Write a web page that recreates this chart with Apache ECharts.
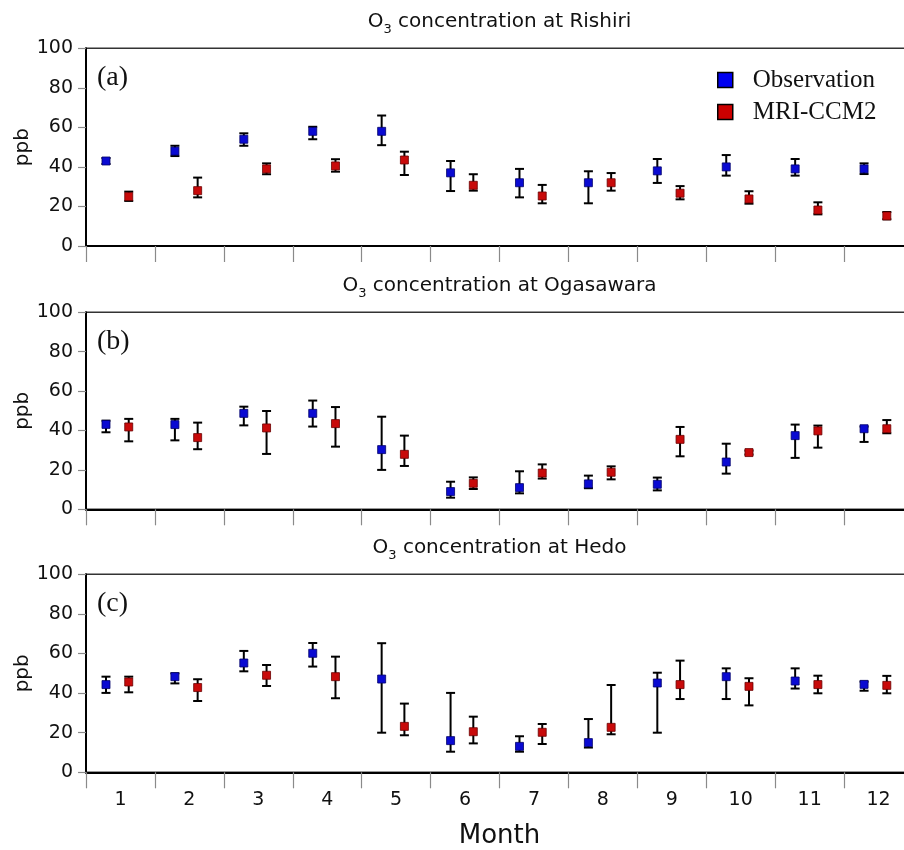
<!DOCTYPE html>
<html>
<head>
<meta charset="utf-8">
<script src="https://cdn.jsdelivr.net/npm/echarts@6/dist/echarts.min.js"></script>
<style>
html,body{margin:0;padding:0;background:#fff;}
#chart{width:904px;height:850px;}
</style>
</head>
<body>
<div id="chart"></div>
<script>
// ---------- data ----------
var months = ['1','2','3','4','5','6','7','8','9','10','11','12'];
var yTicks = [0, 20, 40, 60, 80, 100];

var rishiriObs   = [43, 48, 54, 58, 58, 37, 32, 32, 38, 40, 39, 39];
var rishiriObsHi = [44.5, 50.7, 57, 60.3, 66, 43, 39, 37.8, 44, 46, 44, 41.8];
var rishiriObsLo = [41.5, 45.5, 50.7, 54, 51, 27.8, 24.6, 21.6, 31.9, 35.6, 35.6, 36.4];
var rishiriMod   = [25, 28, 39, 40.5, 43.5, 30.7, 25.3, 32, 26.7, 23.8, 18.2, 15.2];
var rishiriModHi = [27.5, 34.6, 41.8, 43.9, 47.7, 36.3, 30.9, 36.9, 30.3, 27.7, 22.1, 17.2];
var rishiriModLo = [22.8, 24.6, 36.3, 37.6, 35.9, 28, 21.6, 28, 23.6, 21.4, 16, 13.5];

var ogaObs   = [43.1, 43, 48.7, 48.7, 30.3, 9, 11, 12.9, 12.7, 24, 37.4, 40.9];
var ogaObsHi = [45, 45.9, 52.1, 55.2, 47, 14, 19.3, 17.1, 16.1, 33.3, 43, 42];
var ogaObsLo = [39.1, 35, 42.6, 42, 20, 5.9, 8.1, 10.7, 9.6, 18.1, 26.1, 34.2];
var ogaMod   = [41.8, 36.4, 41.3, 43.5, 27.9, 13.2, 18.4, 18.8, 35.5, 28.8, 39.8, 40.9];
var ogaModHi = [45.9, 44, 49.9, 51.9, 37.4, 16.2, 22.8, 21.8, 41.8, 29.8, 42.5, 45.3];
var ogaModLo = [34.5, 30.5, 28.1, 31.8, 22, 10.3, 15.6, 15.2, 26.9, 27.8, 31.3, 38.6];

var hedoObs   = [44.3, 48.3, 55.2, 60.1, 47.1, 16, 13.1, 15, 45.1, 48.3, 46.1, 44.4];
var hedoObsHi = [48.3, 50, 61.3, 65.3, 65.2, 40.1, 18.2, 26.9, 50.3, 52.5, 52.5, 45.8];
var hedoObsLo = [40.1, 44.9, 51, 53.4, 20, 10.4, 10.4, 12.5, 20, 37, 42.3, 41.2];
var hedoMod   = [45.6, 42.8, 49, 48.3, 23.2, 20.5, 20.2, 22.7, 44.3, 43.4, 44.3, 43.9];
var hedoModHi = [48.3, 47, 54.2, 58.4, 34.7, 28.1, 24.4, 44.1, 56.4, 47.5, 48.8, 48.7];
var hedoModLo = [40.4, 36, 43.6, 37.4, 18.7, 14.6, 14.3, 19.2, 37, 33.8, 39.9, 39.9];

var stations = ['Rishiri', 'Ogasawara', 'Hedo'];
var panelLabels = ['(a)', '(b)', '(c)'];
var seriesNames = ['Observation', 'MRI-CCM2'];

// ---------- layout / style ----------
var gridTops = [48.3, 312.3, 574.3];
var gridHeights = [197.7, 197, 198];
var gridLeft = 86, gridWidth = 827;
var obsColor = '#0a0ad2', modColor = '#c80a0a';
var sans = 'DejaVu Sans';
var serif = 'Liberation Serif';

function pack(v, hi, lo) {
  return months.map(function (m, i) { return [i, v[i], hi[i], lo[i]]; });
}
var panels = [
  { obs: pack(rishiriObs, rishiriObsHi, rishiriObsLo), mod: pack(rishiriMod, rishiriModHi, rishiriModLo) },
  { obs: pack(ogaObs, ogaObsHi, ogaObsLo), mod: pack(ogaMod, ogaModHi, ogaModLo) },
  { obs: pack(hedoObs, hedoObsHi, hedoObsLo), mod: pack(hedoMod, hedoModHi, hedoModLo) }
];

function makeRender(offsetFrac, stroke) {
  return function (params, api) {
    var idx = api.value(0);
    var mid = api.coord([idx, api.value(1)]);
    var hi = api.coord([idx, api.value(2)]);
    var lo = api.coord([idx, api.value(3)]);
    var bw = api.size([1, 0])[0];
    var x = mid[0] + offsetFrac * bw;
    var cap = 4.5, half = 4;
    var ls = { stroke: '#000', lineWidth: 2 };
    return {
      type: 'group',
      children: [
        { type: 'line', shape: { x1: x, y1: hi[1], x2: x, y2: lo[1] }, style: ls },
        { type: 'line', shape: { x1: x - cap, y1: hi[1], x2: x + cap, y2: hi[1] }, style: ls },
        { type: 'line', shape: { x1: x - cap, y1: lo[1], x2: x + cap, y2: lo[1] }, style: ls },
        { type: 'rect', shape: { x: x - half, y: mid[1] - half, width: 2 * half, height: 2 * half },
          style: { fill: api.visual('color'), stroke: stroke, lineWidth: 0.8 } }
      ]
    };
  };
}

var grids = [], xAxes = [], xLines = [], yAxes = [], series = [], titles = [];
for (var p = 0; p < 3; p++) {
  grids.push({ left: gridLeft, top: gridTops[p], width: gridWidth, height: gridHeights[p],
    outerBoundsMode: 'none', containLabel: false,
    show: true, borderColor: '#333', borderWidth: 1.5 });
  xAxes.push({
    type: 'category', gridIndex: p, data: months, position: 'bottom', boundaryGap: true,
    axisLine: { show: false },
    axisTick: { show: true, length: 16, lineStyle: { color: '#8a8a8a', width: 1.2 } },
    axisLabel: { show: p === 2, margin: 18, fontFamily: sans, fontSize: 19, color: '#111' },
    name: p === 2 ? 'Month' : '', nameLocation: 'middle', nameGap: 51, nameMoveOverlap: false,
    nameTextStyle: { fontFamily: sans, fontSize: 26, color: '#111' },
    splitLine: { show: false }
  });
  xLines.push({
    type: 'category', gridIndex: p, data: months, position: 'bottom', boundaryGap: true,
    axisLine: { show: true, lineStyle: { color: '#000', width: 2 } },
    axisTick: { show: false }, axisLabel: { show: false }, splitLine: { show: false }
  });
  yAxes.push({
    type: 'value', gridIndex: p, min: yTicks[0], max: yTicks[yTicks.length - 1], interval: 20,
    axisLine: { show: true, lineStyle: { color: '#000', width: 2 } },
    axisTick: { show: true, length: 8, lineStyle: { color: '#8a8a8a', width: 1.2 } },
    axisLabel: { margin: 13, fontFamily: sans, fontSize: 19, color: '#111' },
    splitLine: { show: false },
    name: 'ppb', nameLocation: 'middle', nameGap: 53, nameMoveOverlap: false,
    nameTextStyle: { fontFamily: sans, fontSize: 20, color: '#111' }
  });
  series.push({
    type: 'custom', name: seriesNames[0], xAxisIndex: p, yAxisIndex: p,
    itemStyle: { color: obsColor },
    renderItem: makeRender(-0.21, '#00006a'),
    encode: { x: 0, y: [1, 2, 3] },
    data: panels[p].obs, z: 3
  });
  series.push({
    type: 'custom', name: seriesNames[1], xAxisIndex: p, yAxisIndex: p,
    itemStyle: { color: modColor },
    renderItem: makeRender(0.12, '#6a0000'),
    encode: { x: 0, y: [1, 2, 3] },
    data: panels[p].mod, z: 3
  });
  titles.push({
    text: 'O{sub|3} concentration at ' + stations[p],
    left: gridLeft + gridWidth / 2, top: gridTops[p] - 27,
    textAlign: 'center', textVerticalAlign: 'middle', padding: 0,
    textStyle: {
      fontFamily: sans, fontSize: 20, fontWeight: 'normal', color: '#111', lineHeight: 30,
      rich: { sub: { fontFamily: sans, fontSize: 13, lineHeight: 13, verticalAlign: 'bottom', color: '#111' } }
    }
  });
  titles.push({
    text: panelLabels[p], left: 97, top: gridTops[p] + 29,
    textAlign: 'left', textVerticalAlign: 'middle', padding: 0,
    textStyle: { fontFamily: serif, fontSize: 28, fontWeight: 'normal', color: '#111' }
  });
}

var chart = echarts.init(document.getElementById('chart'), null, { renderer: 'canvas' });
chart.setOption({
  animation: false,
  backgroundColor: '#fff',
  title: titles,
  grid: grids,
  xAxis: xAxes.concat(xLines),
  yAxis: yAxes,
  legend: {
    orient: 'vertical', left: 717, top: 67.5, padding: 0,
    itemWidth: 15, itemHeight: 15, itemGap: 7,
    selectedMode: false,
    textStyle: { fontFamily: serif, fontSize: 25, color: '#111', padding: [0, 0, 0, 15] },
    data: [
      { name: seriesNames[0], icon: 'rect', itemStyle: { color: '#0000f0', borderColor: '#000', borderWidth: 1.5 } },
      { name: seriesNames[1], icon: 'rect', itemStyle: { color: '#cc0000', borderColor: '#000', borderWidth: 1.5 } }
    ]
  },
  series: series
});
</script>
</body>
</html>
